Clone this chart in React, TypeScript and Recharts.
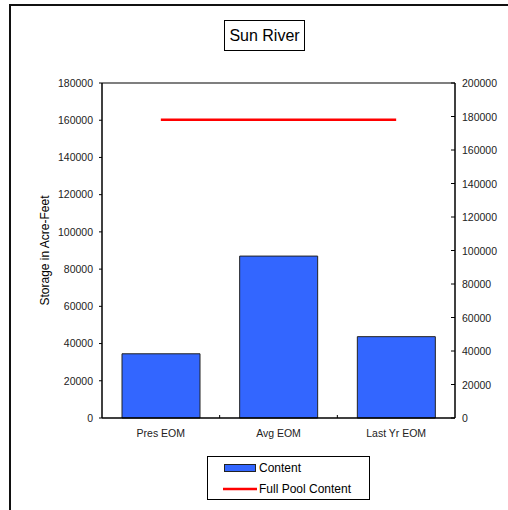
import React from "react";
import {
  ComposedChart,
  Bar,
  Line,
  XAxis,
  YAxis,
  Legend,
  ReferenceLine,
} from "recharts";

const categories = ["Pres EOM", "Avg EOM", "Last Yr EOM"];
const content = [34500, 87000, 43700];
// full pool line is plotted against the right (secondary) axis
const fullPool = [178000, 178000, 178000];
const leftTicks = [0, 20000, 40000, 60000, 80000, 100000, 120000, 140000, 160000, 180000];
const rightTicks = [0, 20000, 40000, 60000, 80000, 100000, 120000, 140000, 160000, 180000, 200000];

const FONT = "'Liberation Sans', Arial, sans-serif";

const data = categories.map((name, i) => ({
  name,
  content: content[i],
  fullPool: fullPool[i],
}));

// category label + a small tick mark on the boundary between categories
const CategoryTick = (props: any) => {
  const { x, y, payload, index, visibleTicksCount, width } = props;
  const half = payload.offset ?? width / (2 * visibleTicksCount);
  const axisY = y - 10;
  return (
    <g>
      {index < visibleTicksCount - 1 && (
        <line x1={x + half} y1={axisY} x2={x + half} y2={axisY - 3} stroke="#000" />
      )}
      <text x={x} y={y} dy={9} textAnchor="middle" fontSize={10.5} fontFamily={FONT} fill="#222">
        {payload.value}
      </text>
    </g>
  );
};

// right axis: tick marks point into the plot, labels outside
const RightTick = (props: any) => {
  const { x, y, payload } = props;
  return (
    <g>
      <line x1={x - 7} y1={y} x2={x - 11} y2={y} stroke="#000" />
      <text x={x} y={y} dy={4} fontSize={10.5} fontFamily={FONT} fill="#222">
        {payload.value}
      </text>
    </g>
  );
};

const LegendBox = (props: any) => {
  const items = props.payload || [];
  return (
    <div
      style={{
        width: 161,
        height: 42,
        border: "1px solid #000",
        background: "#fff",
        fontFamily: FONT,
        fontSize: 12,
        color: "#000",
        boxSizing: "content-box",
      }}
    >
      {items.map((it: any) => (
        <div
          key={it.value}
          style={{ display: "flex", alignItems: "center", height: 21, paddingLeft: 15 }}
        >
          <svg width={36} height={10}>
            {it.type === "rect" ? (
              <rect x={1.5} y={1.5} width={31} height={7} fill={it.color} stroke="#222" />
            ) : (
              <line x1={0} y1={5} x2={34} y2={5} stroke={it.color} strokeWidth={2.5} />
            )}
          </svg>
          <span>{it.value}</span>
        </div>
      ))}
    </div>
  );
};

export default function App() {
  return (
    <div style={{ position: "absolute", left: 0, top: 0, width: 508, height: 510, background: "#fff" }}>
      <div
        style={{
          position: "absolute",
          left: 9,
          top: 4,
          width: 499,
          height: 506,
          borderTop: "2px solid #111",
          borderLeft: "2px solid #111",
        }}
      />
      <div
        style={{
          position: "absolute",
          left: 224,
          top: 20,
          width: 79,
          height: 29,
          border: "1px solid #000",
          fontFamily: FONT,
          fontSize: 16,
          lineHeight: "29px",
          textAlign: "center",
          color: "#000",
        }}
      >
        Sun River
      </div>
      <div style={{ position: "absolute", left: 0, top: 0 }}>
        <ComposedChart
          width={508}
          height={510}
          data={data}
          margin={{ top: 83, right: 3, bottom: 18, left: 30 }}
          barCategoryGap="17%"
        >
          <XAxis
            dataKey="name"
            height={30}
            interval={0}
            axisLine={{ stroke: "#000", strokeWidth: 1.5 }}
            tickLine={false}
            tickSize={0}
            tickMargin={10}
            tick={<CategoryTick />}
          />
          <YAxis
            yAxisId="left"
            width={72}
            domain={[0, 180000]}
            ticks={leftTicks}
            interval={0}
            axisLine={{ stroke: "#000", strokeWidth: 1.5 }}
            tickLine={{ stroke: "#000" }}
            tickSize={3}
            tickMargin={6}
            tick={{ fontSize: 10.5, fontFamily: FONT, fill: "#222" }}
            label={{
              value: "Storage in Acre-Feet",
              angle: -90,
              position: "insideLeft",
              offset: 15,
              style: { textAnchor: "middle", fontSize: 12, fontFamily: FONT, fill: "#000" },
            }}
          />
          <YAxis
            yAxisId="right"
            orientation="right"
            width={50}
            domain={[0, 200000]}
            ticks={rightTicks}
            interval={0}
            axisLine={{ stroke: "#000", strokeWidth: 1.5 }}
            tickLine={false}
            tickSize={0}
            tickMargin={7}
            tick={<RightTick />}
          />
          <ReferenceLine yAxisId="left" y={180000} stroke="#000" strokeWidth={1.2} />
          <Bar
            yAxisId="left"
            dataKey="content"
            name="Content"
            fill="#3366FF"
            stroke="#222"
            strokeWidth={1}
            isAnimationActive={false}
          />
          <Line
            yAxisId="right"
            dataKey="fullPool"
            name="Full Pool Content"
            stroke="#FF0000"
            strokeWidth={2.5}
            dot={false}
            activeDot={false}
            isAnimationActive={false}
            legendType="line"
          />
          <Legend
            content={<LegendBox />}
            wrapperStyle={{ position: "absolute", left: 207, top: 456, width: 163, height: 44 }}
          />
        </ComposedChart>
      </div>
    </div>
  );
}
